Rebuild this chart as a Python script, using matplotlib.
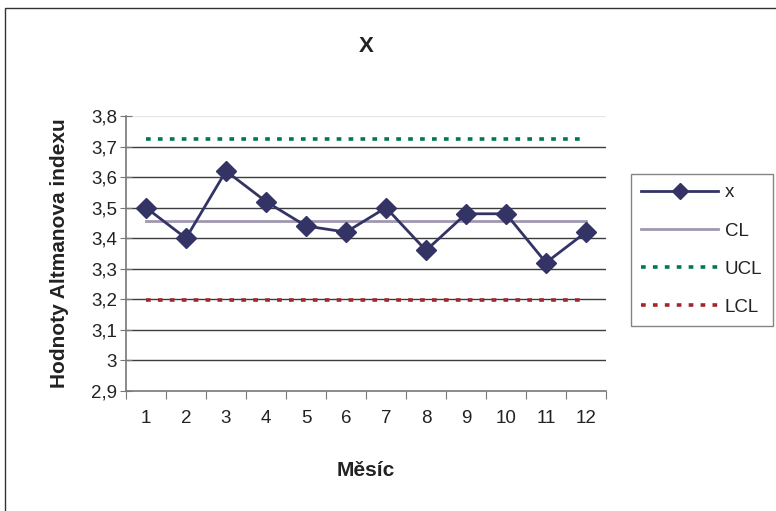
import numpy as np
import matplotlib
matplotlib.use("Agg")
import matplotlib.pyplot as plt
from matplotlib.patches import Rectangle
from matplotlib.ticker import FuncFormatter

plt.rcParams['font.family'] = ['Liberation Sans', 'DejaVu Sans']

# data
mesice = np.arange(1, 13)
x_hodnoty = [3.50, 3.40, 3.62, 3.52, 3.44, 3.42, 3.50, 3.36, 3.48, 3.48, 3.32, 3.42]
cl = 3.455
ucl = 3.724
lcl = 3.197

W, H = 776, 511
fig = plt.figure(figsize=(W / 100, H / 100), dpi=100)

# outer frame of the chart (runs off the right and bottom edge)
fig.patches.append(Rectangle((5 / W, -0.1), 1.2, 1.1 - 8 / H, transform=fig.transFigure,
                             fill=False, edgecolor='#333333', linewidth=1.0))

ax = fig.add_axes([126 / W, 1 - 391 / H, 480 / W, 275 / H])

ax.plot(mesice, [cl] * 12, color='#A098B0', linewidth=2, label='CL', zorder=2)
ax.plot(mesice, [ucl] * 12, color='#007A4D', linewidth=2.6, linestyle=(0, (1.3, 2.0)), label='UCL', zorder=2)
ax.plot(mesice, [lcl] * 12, color='#A0282D', linewidth=2.6, linestyle=(0, (1.3, 2.0)), label='LCL', zorder=2)
ax.plot(mesice, x_hodnoty, color='#333366', linewidth=2, marker='D', markersize=10,
        label='x', zorder=3)

ax.set_xlim(0.5, 12.5)
ax.set_ylim(2.9, 3.8)

# gridlines
for y in np.arange(3.0, 3.75, 0.1):
    ax.axhline(y, color='#3c3c3c', linewidth=1, zorder=1)
ax.axhline(3.8, color='#e6e6e6', linewidth=1, zorder=1)

for s in ['top', 'right']:
    ax.spines[s].set_visible(False)
ax.spines['left'].set_color('#777777')
ax.spines['bottom'].set_color('#777777')
ax.spines['left'].set_linewidth(1.2)
ax.spines['bottom'].set_linewidth(1.2)

ax.set_yticks(np.round(np.arange(2.9, 3.81, 0.1), 1))
ax.yaxis.set_major_formatter(FuncFormatter(lambda v, p: ('%g' % round(v, 1)).replace('.', ',')))
ax.tick_params(axis='y', direction='inout', length=9, color='#777777', labelsize=13.5, pad=2,
               labelcolor='#222222')

ax.set_xticks(np.arange(0.5, 12.6, 1))
ax.set_xticklabels([])
ax.set_xticks(mesice, minor=True)
ax.set_xticklabels([str(m) for m in mesice], minor=True)
ax.tick_params(axis='x', which='major', direction='out', length=6, color='#777777')
ax.tick_params(axis='x', which='minor', length=0, labelsize=13.5, pad=14, labelcolor='#222222')

ax.set_title('X', fontsize=16, fontweight='bold', color='#222222', pad=46)
ax.set_xlabel('Měsíc', fontsize=15, fontweight='bold', color='#222222', labelpad=24)
ax.set_ylabel('Hodnoty Altmanova indexu', fontsize=15, fontweight='bold', color='#222222', labelpad=16)

handles, labels = ax.get_legend_handles_labels()
order = [3, 0, 1, 2]
leg = fig.legend([handles[i] for i in order], [labels[i] for i in order],
                 loc='upper left', bbox_to_anchor=(631 / W, 1 - 174 / H),
                 frameon=True, fancybox=False, fontsize=13.5, handlelength=4.1,
                 labelspacing=1.12, borderpad=0.55, handletextpad=0.35, borderaxespad=0,
                 markerscale=0.8)
leg.get_frame().set_edgecolor('#666666')
leg.get_frame().set_linewidth(1)
for t in leg.get_texts():
    t.set_color('#222222')

fig.savefig('out.png', dpi=100)
